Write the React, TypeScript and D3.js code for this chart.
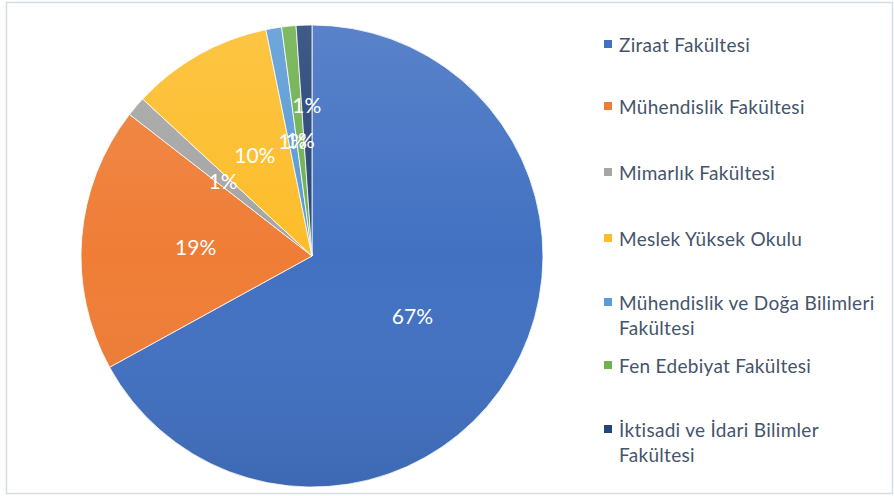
import React from "react";
import * as d3 from "d3";

const categories = [
  "Ziraat Fakültesi",
  "Mühendislik Fakültesi",
  "Mimarlık Fakültesi",
  "Meslek Yüksek Okulu",
  "Mühendislik ve Doğa Bilimleri Fakültesi",
  "Fen Edebiyat Fakültesi",
  "İktisadi ve İdari Bilimler Fakültesi",
];
const values = [67.0, 18.5, 1.4, 9.9, 1.1, 1.0, 1.1];
const labels = ["67%", "19%", "1%", "10%", "1%", "1%", "1%"];
const legendLines = [
  ["Ziraat Fakültesi"],
  ["Mühendislik Fakültesi"],
  ["Mimarlık Fakültesi"],
  ["Meslek Yüksek Okulu"],
  ["Mühendislik ve Doğa Bilimleri", "Fakültesi"],
  ["Fen Edebiyat Fakültesi"],
  ["İktisadi ve İdari Bilimler", "Fakültesi"],
];
const colors = ["#4271c2", "#ef7d36", "#a5a5a5", "#fdbd2a", "#5b9bd5", "#6fb04f", "#264478"];

const W = 894;
const H = 496;
const cx = 312;
const cy = 256;
const R = 231;
const font = "Lato, 'Open Sans', sans-serif";

export default function App() {
  const pie = d3
    .pie<number>()
    .sort(null)
    .value((d) => d)
    .startAngle(0)
    .endAngle(2 * Math.PI);
  const arcs = pie(values);
  const arc = d3.arc<d3.PieArcDatum<number>>().innerRadius(0).outerRadius(R);
  const legendYs = [44, 106, 172, 238, 302, 365, 429];

  return (
    <svg
      width={W}
      height={H}
      style={{ position: "absolute", left: 0, top: 0, background: "#fff" }}
      fontFamily={font}
    >
      <defs>
        <linearGradient id="shade" x1="0" y1="0" x2="0" y2="1">
          <stop offset="0" stopColor="#fff" stopOpacity={0.12} />
          <stop offset="0.5" stopColor="#fff" stopOpacity={0} />
          <stop offset="1" stopColor="#000" stopOpacity={0.08} />
        </linearGradient>
      </defs>
      <rect x={6.5} y={2.5} width={886} height={491} fill="#fff" stroke="#d6dce4" strokeWidth={1.5} />
      <g transform={`translate(${cx},${cy})`}>
        {arcs.map((a, i) => (
          <path key={i} d={arc(a) || ""} fill={colors[i]} stroke="#fff" strokeWidth={0.8} />
        ))}
        <circle r={R} fill="url(#shade)" />
        {arcs.map((a, i) => {
          const mid = (a.startAngle + a.endAngle) / 2;
          const isLastSmall = i === arcs.length - 1 && values[i] < 2;
          const r = isLastSmall ? R * 0.655 : R * 0.505;
          const x = Math.sin(mid) * r;
          const y = -Math.cos(mid) * r;
          return (
            <text
              key={i}
              x={x}
              y={y}
              textAnchor="middle"
              dominantBaseline="central"
              fill="#fff"
              fontSize={21}
            >
              {labels[i]}
            </text>
          );
        })}
      </g>
      {categories.map((c, i) => {
        const y = legendYs[i];
        return (
          <g key={c}>
            <rect x={604} y={y - 4} width={8} height={8} fill={colors[i]} />
            {legendLines[i].map((ln, j) => (
              <text
                key={j}
                x={619}
                y={y + j * 25}
                dominantBaseline="central"
                fontSize={19}
                letterSpacing={0.3}
                fill="#44546a"
              >
                {ln}
              </text>
            ))}
          </g>
        );
      })}
    </svg>
  );
}
